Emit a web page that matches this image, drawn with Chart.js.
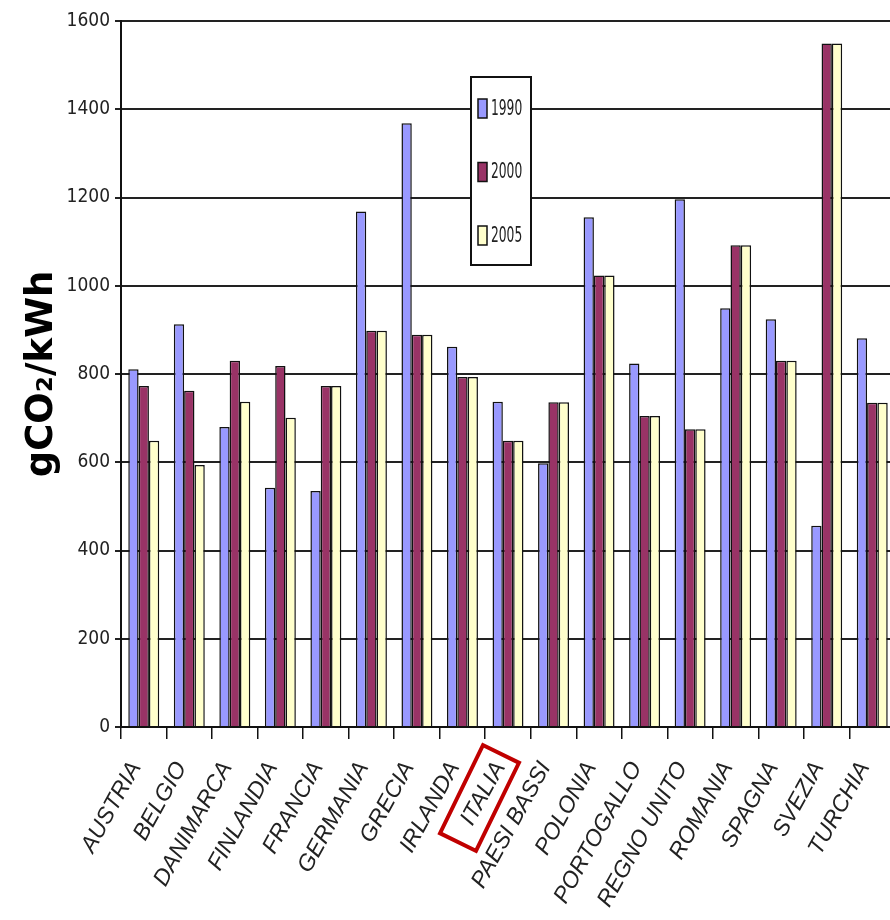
<!DOCTYPE html>
<html>
<head>
<meta charset="utf-8">
<script src="https://cdn.jsdelivr.net/npm/chart.js@4.4.1/dist/chart.umd.min.js"></script>
<style>
  html, body { margin: 0; padding: 0; background: #fff; overflow: hidden; }
</style>
</head>
<body>
<canvas id="myChart" width="895" height="920"></canvas>
<script>
// data (gCO2/kWh)
const countries = ['AUSTRIA', 'BELGIO', 'DANIMARCA', 'FINLANDIA', 'FRANCIA', 'GERMANIA', 'GRECIA', 'IRLANDA',
  'ITALIA', 'PAESI BASSI', 'POLONIA', 'PORTOGALLO', 'REGNO UNITO', 'ROMANIA', 'SPAGNA', 'SVEZIA', 'TURCHIA'];
const years = ['1990', '2000', '2005'];
const values1990 = [811, 913, 680, 542, 535, 1168, 1368, 862, 737, 598, 1155, 824, 1196, 949, 924, 456, 881];
const values2000 = [773, 762, 830, 818, 773, 898, 889, 793, 649, 736, 1023, 705, 675, 1092, 830, 1549, 735];
const values2005 = [649, 594, 737, 701, 773, 898, 889, 793, 649, 736, 1023, 705, 675, 1092, 830, 1549, 735];
const yMin = 0;
const yMax = 1600;
const yStep = 200;
const highlighted = 'ITALIA';

const barColors = ['#9999ff', '#993366', '#ffffcc'];
const narrowFont = '"Liberation Sans Narrow", "DejaVu Sans Condensed", sans-serif';

// legend in a box inside the plot, plus the red frame round one label
const boxLegend = {
  id: 'boxLegend',
  afterDraw(chart) {
    const ctx = chart.ctx;
    ctx.save();
    ctx.fillStyle = '#fff';
    ctx.fillRect(471, 77, 60, 188);
    ctx.strokeStyle = '#111';
    ctx.lineWidth = 2;
    ctx.strokeRect(471, 77, 60, 188);
    chart.data.datasets.forEach((ds, i) => {
      const cy = 108 + i * 63.5;
      ctx.fillStyle = ds.backgroundColor;
      ctx.fillRect(478, cy - 9, 9, 19);
      ctx.lineWidth = 1.5;
      ctx.strokeRect(478, cy - 9, 9, 19);
      // squeezed text like the original
      ctx.save();
      ctx.translate(491, cy + 1);
      ctx.scale(0.62, 1);
      ctx.fillStyle = '#222';
      ctx.font = '22px ' + narrowFont;
      ctx.textBaseline = 'middle';
      ctx.textAlign = 'left';
      ctx.fillText(ds.label, 0, 0);
      ctx.restore();
    });

    const xs = chart.scales.x;
    const cx = xs.getPixelForValue(countries.indexOf(highlighted)) - 28.5;
    const cy = chart.chartArea.bottom + 71;
    ctx.translate(cx, cy);
    ctx.rotate(-64 * Math.PI / 180);
    ctx.strokeStyle = '#c00000';
    ctx.lineWidth = 4;
    ctx.strokeRect(-49, -20, 98, 40);
    ctx.restore();
  }
};

const ctx = document.getElementById('myChart').getContext('2d');
new Chart(ctx, {
  type: 'bar',
  data: {
    labels: countries,
    datasets: [
      { label: years[0], data: values1990, backgroundColor: barColors[0] },
      { label: years[1], data: values2000, backgroundColor: barColors[1] },
      { label: years[2], data: values2005, backgroundColor: barColors[2] }
    ].map(ds => Object.assign(ds, {
      borderColor: '#111',
      borderWidth: 1.5,
      categoryPercentage: 0.68,
      barPercentage: 1.0
    }))
  },
  options: {
    responsive: false,
    devicePixelRatio: 1,
    animation: false,
    layout: { padding: { top: 21, right: 0, left: 0, bottom: 0 } },
    plugins: {
      legend: { display: false },
      tooltip: { enabled: false }
    },
    scales: {
      x: {
        grid: { drawOnChartArea: false, drawTicks: true, tickLength: 12, color: '#111', lineWidth: 1.5 },
        border: { color: '#111', width: 2 },
        ticks: {
          autoSkip: false,
          maxRotation: 61,
          minRotation: 61,
          padding: 18,
          labelOffset: -8,
          color: '#222',
          font: { family: 'Liberation Sans', style: 'italic', size: 23 }
        },
        afterFit: (scale) => {
          scale.height = 193;
          scale.paddingLeft = 0;
          scale.paddingRight = 0;
        }
      },
      y: {
        min: yMin,
        max: yMax,
        grid: { color: '#222', lineWidth: 2, tickLength: 6 },
        border: { color: '#111', width: 2 },
        ticks: {
          stepSize: yStep,
          padding: 5,
          color: '#222',
          font: { family: narrowFont, size: 19 },
          callback: (value) => String(value)
        },
        title: {
          display: true,
          text: 'gCO₂/kWh',
          color: '#000',
          font: { family: 'DejaVu Sans', weight: 'bold', size: 37 },
          padding: { top: 20, bottom: 0 }
        },
        afterFit: (scale) => { scale.width = 121; }
      }
    }
  },
  plugins: [boxLegend]
});
</script>
</body>
</html>
